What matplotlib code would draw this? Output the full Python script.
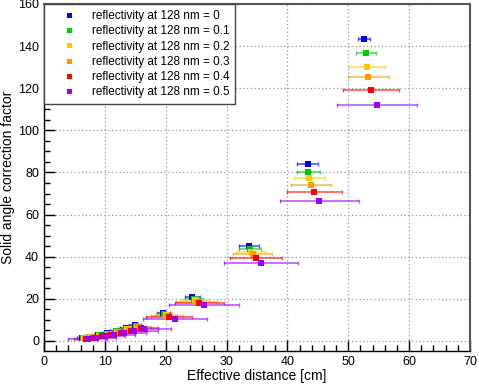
import matplotlib
matplotlib.use("Agg")
import matplotlib.pyplot as plt
from matplotlib.ticker import MultipleLocator

plt.rcParams['font.family'] = ['Liberation Sans', 'DejaVu Sans']

labels = ["reflectivity at 128 nm = 0", "reflectivity at 128 nm = 0.1",
          "reflectivity at 128 nm = 0.2", "reflectivity at 128 nm = 0.3",
          "reflectivity at 128 nm = 0.4", "reflectivity at 128 nm = 0.5"]
colors = ["#0000ff", "#00cc00", "#ffcc00", "#ff9900", "#ff0000", "#9900ff"]

# effective distance [cm] per reflectivity
x_r0 = [52.6, 43.3, 33.7, 24.4, 19.6, 15.0, 13.4, 11.8, 10.3, 8.9, 7.5, 6.3]
x_r1 = [52.9, 43.4, 33.9, 24.6, 19.8, 15.1, 13.5, 11.9, 10.4, 9.0, 7.6, 6.4]
x_r2 = [53.0, 43.6, 34.0, 24.8, 20.0, 15.2, 13.6, 12.0, 10.5, 9.1, 7.7, 6.5]
x_r3 = [53.3, 43.9, 34.3, 25.1, 20.2, 15.5, 13.9, 12.2, 10.7, 9.3, 7.9, 6.7]
x_r4 = [53.8, 44.4, 34.8, 25.5, 20.5, 15.9, 14.3, 12.6, 11.0, 9.6, 8.2, 6.9]
x_r5 = [54.7, 45.2, 35.7, 26.3, 21.5, 16.5, 14.8, 13.1, 11.5, 10.0, 8.6, 7.2]

# solid angle correction factor per reflectivity
y_r0 = [143.4, 84.0, 45.1, 20.7, 13.1, 7.4, 5.9, 4.7, 3.6, 2.7, 2.0, 1.4]
y_r1 = [136.9, 80.4, 43.5, 19.9, 12.6, 7.1, 5.7, 4.5, 3.5, 2.6, 1.9, 1.3]
y_r2 = [130.0, 77.3, 42.3, 19.2, 12.2, 6.8, 5.5, 4.3, 3.3, 2.5, 1.8, 1.3]
y_r3 = [125.4, 74.1, 41.2, 18.6, 11.8, 6.5, 5.2, 4.1, 3.2, 2.4, 1.7, 1.2]
y_r4 = [119.3, 70.6, 39.3, 17.9, 11.3, 6.1, 4.9, 3.8, 2.9, 2.2, 1.6, 1.1]
y_r5 = [111.9, 66.6, 37.2, 16.9, 10.3, 5.7, 4.6, 3.6, 2.8, 2.1, 1.5, 1.0]

# horizontal uncertainty [cm]
xerr_r0 = [1.0, 1.7, 1.6, 1.2, 1.1, 1.0, 0.9, 0.8, 0.7, 0.6, 0.6, 0.5]
xerr_r1 = [1.6, 1.9, 1.8, 1.5, 1.3, 1.2, 1.1, 1.0, 0.9, 0.8, 0.7, 0.7]
xerr_r2 = [3.0, 2.5, 2.4, 2.3, 1.8, 1.5, 1.4, 1.3, 1.2, 1.1, 1.0, 1.0]
xerr_r3 = [3.4, 3.3, 3.2, 3.4, 2.6, 2.0, 1.9, 1.7, 1.6, 1.5, 1.4, 1.3]
xerr_r4 = [4.6, 4.5, 4.3, 4.0, 3.8, 2.8, 2.6, 2.4, 2.2, 2.1, 2.0, 1.9]
xerr_r5 = [6.6, 6.5, 6.1, 5.7, 5.3, 4.3, 4.0, 3.7, 3.5, 3.3, 3.2, 3.2]

xs = [x_r0, x_r1, x_r2, x_r3, x_r4, x_r5]
ys = [y_r0, y_r1, y_r2, y_r3, y_r4, y_r5]
xerrs = [xerr_r0, xerr_r1, xerr_r2, xerr_r3, xerr_r4, xerr_r5]

fig = plt.figure(figsize=(4.79, 3.84), dpi=100)
ax = fig.add_axes([44/479, 1-351/384, (470-44)/479, (351-4)/384])

for x, y, xe, c, lab in zip(xs, ys, xerrs, colors, labels):
    ax.errorbar(x, y, xerr=xe, fmt='none', ecolor=c, elinewidth=1.2,
                capsize=1.5, capthick=1.0, alpha=0.65, zorder=3)
    ax.plot(x, y, 's', color=c, markersize=4.5, markeredgewidth=0,
            linestyle='none', zorder=4, label=lab)

ax.set_xlim(0, 70)
ax.set_ylim(-4.8, 160)
ax.xaxis.set_major_locator(MultipleLocator(10))
ax.xaxis.set_minor_locator(MultipleLocator(2))
ax.yaxis.set_major_locator(MultipleLocator(20))
ax.yaxis.set_minor_locator(MultipleLocator(5))
ax.tick_params(which='both', direction='in', top=False, right=False,
               labelsize=9, width=1.0, color='black')
ax.tick_params(which='major', length=8)
ax.tick_params(which='minor', length=4)
ax.grid(True, which='major', linestyle=(0, (1, 2)), color='#999999', linewidth=0.9)
ax.set_axisbelow(True)

for s in ['left', 'bottom']:
    ax.spines[s].set_linewidth(1.0)
    ax.spines[s].set_color('black')
for s in ['top', 'right']:
    ax.spines[s].set_linewidth(1.5)
    ax.spines[s].set_color('#555555')

ax.set_xlabel("Effective distance [cm]", fontsize=10, labelpad=1)
ax.set_ylabel("Solid angle correction factor", fontsize=10)
ax.yaxis.set_label_coords(-0.068, 0.5)

leg = ax.legend(loc='upper left', bbox_to_anchor=(0.0, 1.0), borderaxespad=0.0,
                fontsize=8.5, frameon=True, fancybox=False, edgecolor='#444444',
                framealpha=1, markerscale=0.8, handlelength=3.2, handletextpad=0.35,
                labelspacing=0.28, borderpad=0.5, numpoints=1)
leg.get_frame().set_linewidth(1.0)

fig.savefig("out.png", dpi=100)
